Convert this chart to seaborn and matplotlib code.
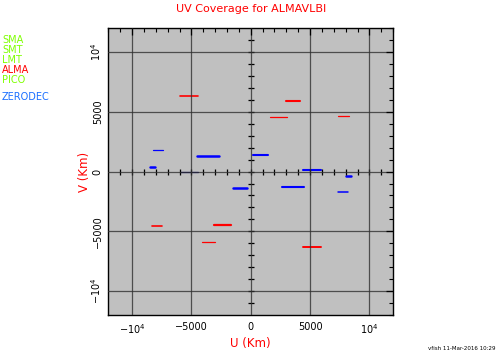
import matplotlib
matplotlib.use("Agg")
import matplotlib.pyplot as plt
import numpy as np
import pandas as pd
import seaborn as sns
from matplotlib.ticker import MultipleLocator, FuncFormatter


# uv track segments (km): start u, end u, constant v
red_u0 = [-5985, 1602, 2950, 7360, -8320, -3119, -4105, 4409]
red_u1 = [-4409, 3094, 4131, 8263, -7444, -1627, -2976, 5901]
red_v = [6323, 4552, 5926, 4636, -4586, -4502, -5901, -6297]

blue_u0 = [-8236, -8514, -4527, -5985, -1492, 194, 4409, 8068, 2640, 7360]
blue_u1 = [-7418, -8093, -2698, -4409, -278, 1459, 5901, 8430, 4493, 8235]
blue_v = [1770, 362, 1290, -59, -1383, 1374, 110, -371, -1298, -1745]

stations = ["SMA", "SMT", "LMT", "ALMA", "PICO"]
station_colors = ["#7fff00", "#7fff00", "#7fff00", "#ff0000", "#7fff00"]
source = "ZERODEC"

title = "UV Coverage for ALMAVLBI"
footer = "vfish 11-Mar-2016 10:29"


def segments(u0, u1, v, group):
    rows = []
    for i, (a, b, c) in enumerate(zip(u0, u1, v)):
        rows.append({"seg": f"{group}{i}", "u": a, "v": c, "group": group})
        rows.append({"seg": f"{group}{i}", "u": b, "v": c, "group": group})
    return pd.DataFrame(rows)


def tick_fmt(x, pos):
    if abs(x) >= 10000:
        return r"$-10^4$" if x < 0 else r"$10^4$"
    return f"{int(x)}".replace("-", "\u2212")


def main() -> None:
    sns.set_style("white", {"axes.facecolor": "#c0c0c0"})
    plt.rcParams["font.family"] = ["DejaVu Sans"]
    plt.rcParams["mathtext.fontset"] = "dejavusans"

    fig = plt.figure(figsize=(4.97, 3.53), dpi=100)
    ax = fig.add_axes([0.218, 0.108, 0.573, 0.812])

    red = segments(red_u0, red_u1, red_v, "r")
    blue = segments(blue_u0, blue_u1, blue_v, "b")
    red_w = [1.2, 0.9, 1.5, 0.9, 1.2, 1.6, 0.9, 1.4]
    blue_w = [0.9, 1.8, 1.8, 0.9, 1.8, 1.5, 1.5, 1.8, 1.5, 1.1]
    blue_c = ["#0000ff"] * 10
    blue_c[3] = "#00006a"

    for i, seg in enumerate(red["seg"].unique()):
        sns.lineplot(data=red[red["seg"] == seg], x="u", y="v", ax=ax,
                     color="#ff0000", lw=red_w[i], estimator=None, sort=False)
    for i, seg in enumerate(blue["seg"].unique()):
        sns.lineplot(data=blue[blue["seg"] == seg], x="u", y="v", ax=ax,
                     color=blue_c[i], lw=blue_w[i], estimator=None, sort=False)

    ax.set_xlim(-12000, 12000)
    ax.set_ylim(-12000, 12000)
    ax.xaxis.set_major_locator(MultipleLocator(5000))
    ax.yaxis.set_major_locator(MultipleLocator(5000))
    ax.xaxis.set_minor_locator(MultipleLocator(1000))
    ax.yaxis.set_minor_locator(MultipleLocator(1000))
    ax.xaxis.set_major_formatter(FuncFormatter(tick_fmt))
    ax.yaxis.set_major_formatter(FuncFormatter(tick_fmt))
    ax.grid(True, which="major", color="#303030", lw=0.9, alpha=0.8)
    ax.set_axisbelow(False)
    ax.tick_params(which="both", direction="in", top=True, right=True,
                   color="black", labelcolor="black", labelsize=7)
    ax.tick_params(which="major", length=5, width=0.9)
    ax.tick_params(which="minor", length=3, width=0.8)
    ax.tick_params(axis="x", pad=5)
    ax.tick_params(axis="y", pad=4)
    for lab in ax.get_yticklabels():
        lab.set_rotation(90)
        lab.set_va("center")
    for sp in ax.spines.values():
        sp.set_color("black")
        sp.set_linewidth(1.0)

    # ticks along the axes through the origin
    minor = np.arange(-11000, 12000, 1000)
    ax.plot(minor, np.zeros_like(minor), ls="none", marker="|", ms=5,
            mew=0.9, color="black")
    ax.plot(np.zeros_like(minor), minor, ls="none", marker="_", ms=5,
            mew=0.9, color="black")

    ax.set_xlabel("U (Km)", color="#ff0000", fontsize=8.5, va="center")
    ax.xaxis.set_label_coords(0.5, -0.101)
    ax.set_ylabel("V (Km)", color="#ff0000", fontsize=8.5, va="center")
    ax.yaxis.set_label_coords(-0.085, 0.5)
    ax.set_title(title, color="#ff0000", fontsize=8, pad=12)

    y0 = 353 - 40
    for i, (name, col) in enumerate(zip(stations, station_colors)):
        fig.text(2 / 497, (y0 - i * 10) / 353, name, color=col, fontsize=7,
                 va="center", ha="left")
    fig.text(2 / 497, (353 - 97) / 353, source, color="#1a6fff", fontsize=7,
             va="center", ha="left")
    fig.text(495 / 497, 5 / 353, footer, color="black", fontsize=4,
             ha="right", va="center")

    fig.savefig("out.png", dpi=100)
    plt.close(fig)


if __name__ == "__main__":
    main()
